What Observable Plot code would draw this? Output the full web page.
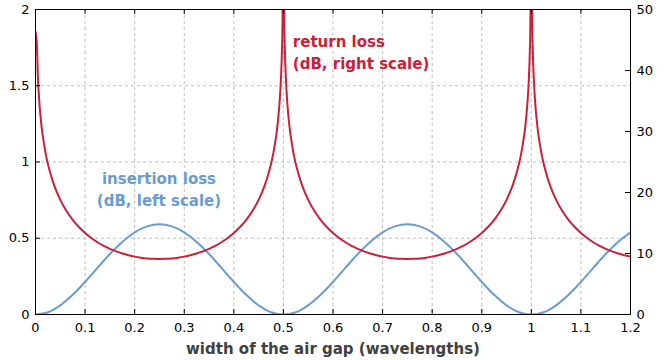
<!DOCTYPE html>
<html>
<head>
<meta charset="utf-8">
<script src="https://cdn.jsdelivr.net/npm/d3@7"></script>
<script src="https://cdn.jsdelivr.net/npm/@observablehq/plot@0.6"></script>
<style>
  html, body { margin: 0; padding: 0; background: #fff; }
  #chart { width: 664px; height: 360px; }
</style>
</head>
<body>
<div id="chart"></div>
<script>
// x ticks (air gap width, wavelengths)
const xTicks = [0, 0.1, 0.2, 0.3, 0.4, 0.5, 0.6, 0.7, 0.8, 0.9, 1.0, 1.1, 1.2];
const leftTicks = [0, 0.5, 1, 1.5, 2];
const rightTicks = [0, 10, 20, 30, 40, 50];
const leftGrid = [0.5, 1, 1.5];

// insertion loss (dB, left scale), sampled every 0.025
const ilWidth = [0, 0.025, 0.05, 0.075, 0.1, 0.125, 0.15, 0.175, 0.2, 0.225, 0.25,
  0.275, 0.3, 0.325, 0.35, 0.375, 0.4, 0.425, 0.45, 0.475, 0.5,
  0.525, 0.55, 0.575, 0.6, 0.625, 0.65, 0.675, 0.7, 0.725, 0.75,
  0.775, 0.8, 0.825, 0.85, 0.875, 0.9, 0.925, 0.95, 0.975, 1.0,
  1.025, 1.05, 1.075, 1.1, 1.125, 1.15, 1.175, 1.2];
const ilDb = [0, 0.015, 0.060, 0.129, 0.213, 0.306, 0.397, 0.476, 0.539, 0.578, 0.591,
  0.578, 0.539, 0.476, 0.397, 0.306, 0.213, 0.129, 0.060, 0.015, 0,
  0.015, 0.060, 0.129, 0.213, 0.306, 0.397, 0.476, 0.539, 0.578, 0.591,
  0.578, 0.539, 0.476, 0.397, 0.306, 0.213, 0.129, 0.060, 0.015, 0,
  0.015, 0.060, 0.129, 0.213, 0.306, 0.397, 0.476, 0.539];

// return loss (dB, right scale)
const rlWidth = [
  0, 0.0025, 0.005, 0.0075, 0.01, 0.0125, 0.015, 0.02, 0.025, 0.0375, 0.05, 0.0625, 0.075, 0.0875,
  0.1, 0.1125, 0.125, 0.1375, 0.15, 0.1625, 0.175, 0.1875, 0.2, 0.2125, 0.225, 0.2375,
  0.25, 0.2625, 0.275, 0.2875, 0.3, 0.3125, 0.325, 0.3375, 0.35, 0.3625, 0.375, 0.3875,
  0.4, 0.4125, 0.425, 0.4375, 0.45, 0.4625, 0.475, 0.48, 0.485, 0.4875, 0.49, 0.4925, 0.495, 0.4975,
  0.5, 0.5025, 0.505, 0.5075, 0.51, 0.5125, 0.515, 0.52, 0.525, 0.5375, 0.55, 0.5625, 0.575, 0.5875,
  0.6, 0.6125, 0.625, 0.6375, 0.65, 0.6625, 0.675, 0.6875, 0.7, 0.7125, 0.725, 0.7375,
  0.75, 0.7625, 0.775, 0.7875, 0.8, 0.8125, 0.825, 0.8375, 0.85, 0.8625, 0.875, 0.8875,
  0.9, 0.9125, 0.925, 0.9375, 0.95, 0.9625, 0.975, 0.98, 0.985, 0.9875, 0.99, 0.9925, 0.995, 0.9975,
  1.0, 1.0025, 1.005, 1.0075, 1.01, 1.0125, 1.015, 1.02, 1.025, 1.0375, 1.05, 1.0625, 1.075, 1.0875,
  1.1, 1.1125, 1.125, 1.1375, 1.15, 1.1625, 1.175, 1.1875, 1.2];
const rlDb = [
  46.4, 44.62, 38.6, 35.08, 32.58, 30.65, 29.07, 26.59, 24.67, 21.21, 18.8, 16.97, 15.52, 14.34,
  13.36, 12.54, 11.84, 11.26, 10.76, 10.34, 10.0, 9.72, 9.49, 9.32, 9.2, 9.13,
  9.11, 9.13, 9.2, 9.32, 9.49, 9.72, 10.0, 10.34, 10.76, 11.26, 11.84, 12.54,
  13.36, 14.34, 15.52, 16.97, 18.8, 21.21, 24.67, 26.59, 29.07, 30.65, 32.58, 35.08, 38.6, 44.62,
  60, 44.62, 38.6, 35.08, 32.58, 30.65, 29.07, 26.59, 24.67, 21.21, 18.8, 16.97, 15.52, 14.34,
  13.36, 12.54, 11.84, 11.26, 10.76, 10.34, 10.0, 9.72, 9.49, 9.32, 9.2, 9.13,
  9.11, 9.13, 9.2, 9.32, 9.49, 9.72, 10.0, 10.34, 10.76, 11.26, 11.84, 12.54,
  13.36, 14.34, 15.52, 16.97, 18.8, 21.21, 24.67, 26.59, 29.07, 30.65, 32.58, 35.08, 38.6, 44.62,
  60, 44.62, 38.6, 35.08, 32.58, 30.65, 29.07, 26.59, 24.67, 21.21, 18.8, 16.97, 15.52, 14.34,
  13.36, 12.54, 11.84, 11.26, 10.76, 10.34, 10.0, 9.72, 9.49];

const rightMax = 50, leftMax = 2;
const ratio = rightMax / leftMax; // right dB per left unit

const xLabel = "width of the air gap (wavelengths)";
const redLabel = ["return loss\n(dB, right scale)"];
const blueLabel = ["insertion loss\n(dB, left scale)"];
const redLabelPos = {x: 0.519, y: 1.728};
const blueLabelPos = {x: 0.249, y: 0.832};

const BLUE = "#6a9cd2";
const RED = "#cc2038";
const W = 664, H = 360;
const mL = 35, mR = 34, mT = 9, mB = 46;
const innerW = W - mL - mR, innerH = H - mT - mB;
const tickLen = 5;

const il = ilWidth.map((x, i) => ({x, y: ilDb[i]}));
const rl = rlWidth.map((x, i) => ({x, y: rlDb[i] / ratio}));

const chart = Plot.plot({
  width: W, height: H,
  marginLeft: mL, marginRight: mR, marginTop: mT, marginBottom: mB,
  style: {fontFamily: "'DejaVu Sans', sans-serif", fontSize: "13px", color: "#000", background: "#fff"},
  x: {domain: [0, 1.2]},
  y: {domain: [0, 2]},
  marks: [
    Plot.gridX(xTicks, {stroke: "#bcbcbc", strokeOpacity: 1, strokeDasharray: "3,3"}),
    Plot.gridY(leftGrid, {stroke: "#bcbcbc", strokeOpacity: 1, strokeDasharray: "3,3"}),
    Plot.line(il, {x: "x", y: "y", stroke: BLUE, strokeWidth: 2, curve: "catmull-rom", clip: true}),
    Plot.line(rl, {x: "x", y: "y", stroke: RED, strokeWidth: 2, curve: "catmull-rom", clip: true}),
    // inward ticks
    Plot.tickX(xTicks, {x: d => d, stroke: "#000", insetTop: innerH - tickLen}),
    Plot.tickX(xTicks, {x: d => d, stroke: "#000", insetBottom: innerH - tickLen}),
    Plot.tickY(leftTicks, {y: d => d, stroke: "#000", insetRight: innerW - tickLen}),
    Plot.tickY(rightTicks.map(d => d / ratio), {y: d => d, stroke: "#000", insetLeft: innerW - tickLen}),
    Plot.frame({stroke: "#000", strokeWidth: 1}),
    Plot.axisX(xTicks, {anchor: "bottom", tickSize: 0, tickPadding: 8, label: null, tickFormat: d => String(d)}),
    Plot.axisY(leftTicks, {anchor: "left", tickSize: 0, tickPadding: 6, label: null, tickFormat: d => String(d)}),
    Plot.axisY(rightTicks.map(d => d / ratio), {anchor: "right", tickSize: 0, tickPadding: 6, label: null,
      tickFormat: d => String(Math.round(d * ratio))}),
    Plot.text([xLabel], {text: d => d, frameAnchor: "bottom", lineAnchor: "middle", dy: 35,
      fontWeight: "bold", fontSize: 15, fill: "#404040"}),
    Plot.text(redLabel, {text: d => d, x: () => redLabelPos.x, y: () => redLabelPos.y, textAnchor: "start",
      lineAnchor: "middle", lineHeight: 1.47, fontWeight: "bold", fontSize: 15, fill: RED}),
    Plot.text(blueLabel, {text: d => d, x: () => blueLabelPos.x, y: () => blueLabelPos.y, textAnchor: "middle",
      lineAnchor: "middle", lineHeight: 1.47, fontWeight: "bold", fontSize: 15, fill: BLUE})
  ]
});
document.getElementById("chart").appendChild(chart);
</script>
</body>
</html>
